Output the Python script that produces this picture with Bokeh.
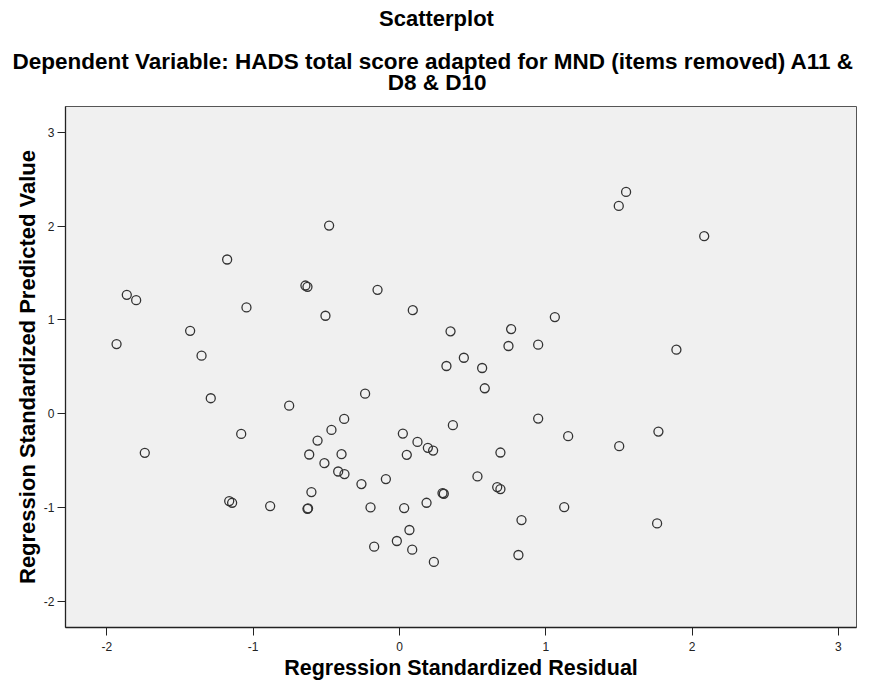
from bokeh.plotting import figure
from bokeh.models import Range1d, Title, FixedTicker
from bokeh.embed import file_html
from bokeh.resources import INLINE

# ---- data ----
residual = [-1.934, -1.864, -1.800, -1.431, -1.353, -1.178, -1.046, -0.643, -0.629, -0.506,
            -0.481, -0.150, 0.091, 0.349, 0.763, 0.745, 0.948, 1.062, 1.499, 1.549,
            0.440, 2.083, 1.893, -1.290, -0.754, -1.741, -1.082, -0.465, -0.560, -0.617,
            -0.513, -0.602, -1.164, -1.144, -0.884, -0.629, -0.625, 0.321, 0.565, 0.583,
            -0.235, -0.378, -0.396, -0.419, -0.376, -0.260, -0.093, 0.023, 0.123, 0.194,
            0.230, 0.050, 0.365, 0.690, 0.533, 0.668, 0.690, 0.294, 0.303, 0.185,
            -0.198, 0.032, 0.068, -0.018, -0.173, 0.087, 0.235, 0.834, 0.813, 1.126,
            0.948, 1.153, 1.502, 1.770, 1.761]
predicted = [0.744, 1.268, 1.211, 0.885, 0.620, 1.644, 1.134, 1.367, 1.353, 1.045,
             2.005, 1.321, 1.105, 0.879, 0.903, 0.723, 0.737, 1.031, 2.214, 2.363,
             0.598, 1.892, 0.684, 0.167, 0.088, -0.414, -0.213, -0.170, -0.284, -0.432,
             -0.524, -0.832, -0.928, -0.946, -0.981, -1.010, -1.005, 0.510, 0.489, 0.273,
             0.216, -0.053, -0.429, -0.613, -0.641, -0.747, -0.694, -0.209, -0.298, -0.361,
             -0.390, -0.436, -0.120, -0.411, -0.666, -0.779, -0.800, -0.843, -0.850, -0.946,
             -0.995, -1.002, -1.236, -1.353, -1.413, -1.445, -1.576, -1.130, -1.502, -0.992,
             -0.050, -0.237, -0.343, -0.188, -1.166]
x_ticks = [-2, -1, 0, 1, 2, 3]
y_ticks = [-2, -1, 0, 1, 2, 3]
title_text = "Scatterplot"
subtitle_1 = "Dependent Variable: HADS total score adapted for MND (items removed) A11 &"
subtitle_2 = "D8 & D10"
x_title = "Regression Standardized Residual"
y_title = "Regression Standardized Predicted Value"

FONT = "Liberation Sans"
FS_T = 22      # "Scatterplot"
FS_S = 22.5    # subtitle lines
FRAME_TOP = 106

p = figure(width=857, height=682, output_backend="svg", toolbar_location=None,
           title=None,
           x_range=Range1d(-2.283, 3.124), y_range=Range1d(-2.274, 3.273),
           min_border_left=65, min_border_right=1, min_border_top=FRAME_TOP,
           min_border_bottom=54)

p.border_fill_color = "white"
p.background_fill_color = "#f0f0f0"
p.outline_line_color = "#555555"
p.outline_line_width = 1
p.xgrid.visible = False
p.ygrid.visible = False

for ax, ticks in ((p.xaxis[0], x_ticks), (p.yaxis[0], y_ticks)):
    ax.ticker = FixedTicker(ticks=ticks)
    ax.major_label_overrides = {t: str(t) for t in ticks}
    ax.minor_tick_line_color = None
    ax.major_tick_in = 0
    ax.major_tick_out = 8
    ax.major_tick_line_color = "#222222"
    ax.axis_line_color = "#222222"
    ax.axis_line_width = 1.3
    ax.major_label_text_font = FONT
    ax.major_label_text_font_size = "12px"
    ax.major_label_text_color = "#222222"
    ax.axis_label_text_font = FONT
    ax.axis_label_text_font_style = "bold"
    ax.axis_label_text_color = "black"

p.xaxis.axis_label = x_title
p.yaxis.axis_label = y_title
p.xaxis.axis_label_text_font_size = "21.5px"
p.yaxis.axis_label_text_font_size = "22px"
p.xaxis.major_label_standoff = 6
p.xaxis.axis_label_standoff = 2
p.yaxis.major_label_standoff = 3
p.yaxis.axis_label_standoff = 1

p.scatter(residual, predicted, marker="circle", size=9, fill_color=None,
          line_color="#333333", line_width=1.3)

# ---- titles stacked above the frame (first added = closest to the frame) ----
# measured text-box metrics of Liberation Sans Bold in em
ASC, DESC, HGT = 0.977, 0.1636, 1.141
b0, b1, b2 = 30.0, 69.5, 90.5    # baselines of the three title lines
s2 = 2 * (FRAME_TOP - b2 - DESC * FS_S)
top2 = FRAME_TOP - 2 - HGT * FS_S - s2
s1 = 2 * (top2 - b1 - DESC * FS_S)
top1 = top2 - 2 - HGT * FS_S - s1
top0 = 3
s0 = 2 * (b0 - top0 - ASC * FS_T)
B0 = top0 + 2 + HGT * FS_T + s0
s_sp = (top1 - B0) - 9.5

def mk(text, offset, standoff, valign, fs):
    return Title(text=text, align="left", offset=offset, standoff=standoff,
                 vertical_align=valign, text_font=FONT, text_font_style="bold",
                 text_font_size=f"{fs}px", text_color="black")

p.add_layout(mk(subtitle_2, 322.3, s2, "bottom", FS_S), "above")
p.add_layout(mk(subtitle_1, -53.0, s1, "bottom", FS_S), "above")
p.add_layout(mk(" ", 0, s_sp, "bottom", 1), "above")
p.add_layout(mk(title_text, 313.5, s0, "top", FS_T), "above")

open("out.html", "w").write(file_html(p, INLINE))
